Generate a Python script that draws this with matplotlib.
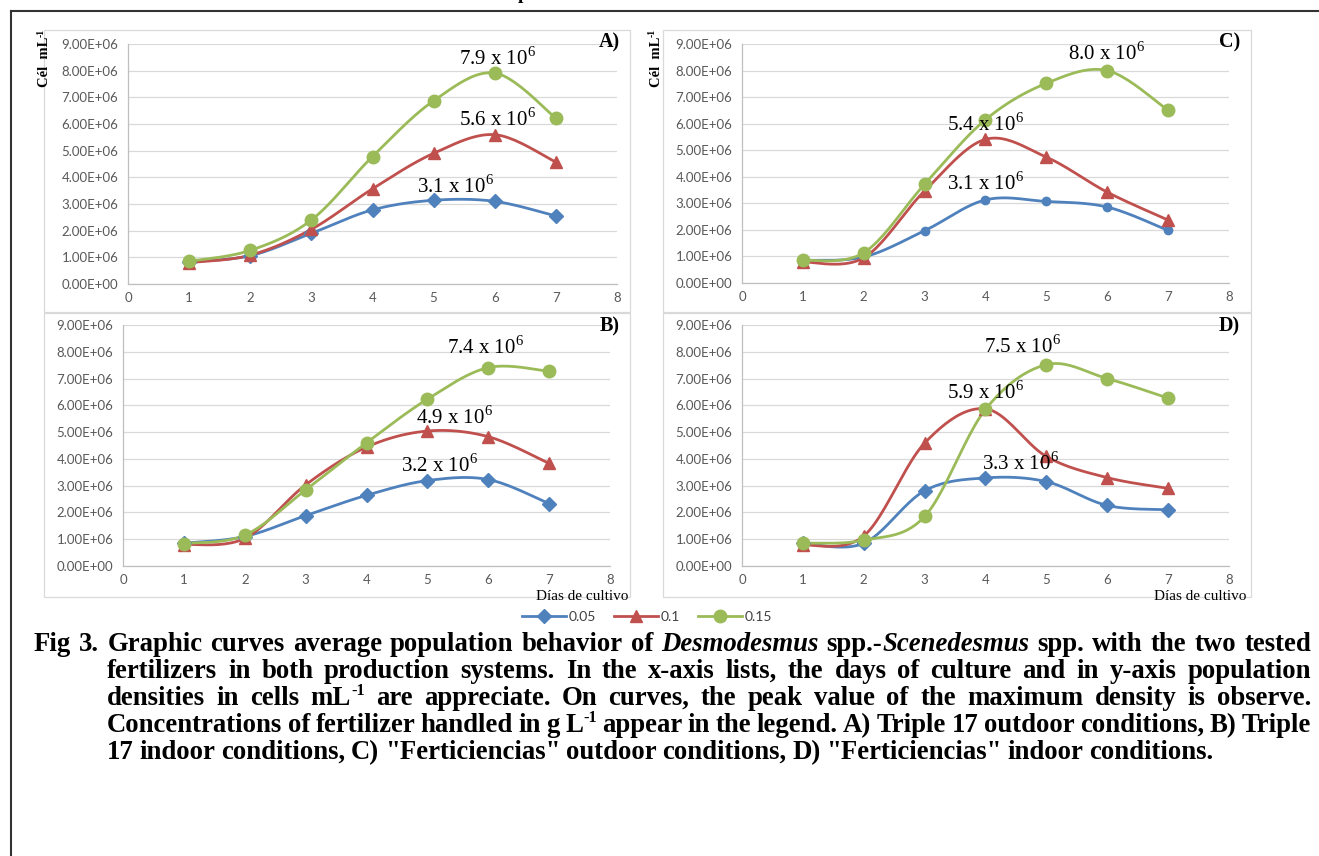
import numpy as np
import matplotlib as mpl
mpl.use('Agg')
from matplotlib import pyplot as plt
from matplotlib.lines import Line2D
from matplotlib.patches import Rectangle

plt.rcParams['mathtext.fontset'] = 'custom'
plt.rcParams['mathtext.rm'] = 'Liberation Serif'
plt.rcParams['mathtext.bf'] = 'Liberation Serif:bold'

# datos (celulas por mL, en millones)
dias = [1, 2, 3, 4, 5, 6, 7]
concentraciones = ['0.05', '0.1', '0.15']

a_005 = [0.84, 1.06, 1.90, 2.78, 3.14, 3.10, 2.55]
a_01 = [0.80, 1.08, 2.05, 3.57, 4.90, 5.60, 4.57]
a_015 = [0.85, 1.26, 2.40, 4.78, 6.87, 7.91, 6.22]

b_005 = [0.85, 1.10, 1.88, 2.64, 3.19, 3.23, 2.33]
b_01 = [0.80, 1.03, 3.03, 4.44, 5.04, 4.83, 3.83]
b_015 = [0.84, 1.15, 2.84, 4.60, 6.23, 7.41, 7.27]

c_005 = [0.85, 0.98, 1.97, 3.13, 3.07, 2.86, 1.98]
c_01 = [0.79, 0.95, 3.47, 5.41, 4.74, 3.42, 2.37]
c_015 = [0.85, 1.14, 3.72, 6.15, 7.52, 8.00, 6.50]

d_005 = [0.85, 0.85, 2.81, 3.29, 3.15, 2.26, 2.10]
d_01 = [0.78, 1.12, 4.59, 5.87, 4.09, 3.30, 2.90]
d_015 = [0.85, 0.96, 1.85, 5.85, 7.52, 7.00, 6.27]

# etiquetas de los picos (0.05, 0.1, 0.15)
picos_a = ['3.1', '5.6', '7.9']
picos_b = ['3.2', '4.9', '7.4']
picos_c = ['3.1', '5.4', '8.0']
picos_d = ['3.3', '5.9', '7.5']

W, H = 1319, 856
colores = ['#4F81BD', '#C0504D', '#9BBB59']
marcadores = [('D', 7), ('^', 9), ('o', 9)]


def suavizar(x, y, n=24):
    # curva suavizada tipo Excel (bezier con puntos vecinos)
    P = np.column_stack([x, y]).astype(float)
    P = np.vstack([P[:1], P, P[-1:]])
    t = np.linspace(0, 1, n)[:, None]
    xs, ys = [], []
    for i in range(len(x) - 1):
        p0 = P[i + 1]
        p3 = P[i + 2]
        p1 = p0 + (P[i + 2] - P[i]) / 6
        p2 = p3 - (P[i + 3] - P[i + 1]) / 6
        c = (1 - t) ** 3 * p0 + 3 * (1 - t) ** 2 * t * p1 + 3 * (1 - t) * t ** 2 * p2 + t ** 3 * p3
        xs.extend(c[:, 0])
        ys.extend(c[:, 1])
    return np.array(xs), np.array(ys)


fig = plt.figure(figsize=(W / 100, H / 100), dpi=100)
renderer = fig.canvas.get_renderer()


def caja(l, t, r, b, color='#D9D9D9', lw=0.9):
    fig.add_artist(Rectangle((l / W, 1 - b / H), (r - l) / W, (b - t) / H,
                             transform=fig.transFigure, fill=False, ec=color, lw=lw))


def etiqueta_y(x):
    # "Cél mL-1" vertical, con el -1 como superindice
    kw = dict(rotation=90, ha='center', va='top', family='Liberation Serif', weight='bold')
    fig.text((x - 4) / W, 1 - 29 / H, '-1', fontsize=7, **kw)
    fig.text(x / W, 1 - 37 / H, 'Cél  mL', fontsize=10.5, **kw)


def panel(rect, series, picos, pos_picos, letra, pos_letra, ylabel=None, xlabel=None, marcador_azul=None):
    l, t, r, b = rect
    ax = fig.add_axes([l / W, 1 - b / H, (r - l) / W, (b - t) / H])
    ax.set_xlim(0, 8)
    ax.set_ylim(0, 9e6)
    ax.set_xticks(range(9))
    ax.set_yticks(np.arange(0, 9.5e6, 1e6))
    ax.yaxis.set_major_formatter(lambda v, p: '{:.2E}'.format(v))
    ax.yaxis.grid(True, color='#D9D9D9', lw=0.9)
    ax.set_axisbelow(True)
    for s in ['top', 'right']:
        ax.spines[s].set_visible(False)
    for s in ['left', 'bottom']:
        ax.spines[s].set_color('#BFBFBF')
        ax.spines[s].set_linewidth(0.9)
    ax.tick_params(length=0, labelsize=9.5, labelcolor='#595959')
    ax.tick_params(axis='y', pad=7)
    ax.tick_params(axis='x', pad=6)
    for lab in ax.get_xticklabels() + ax.get_yticklabels():
        lab.set_family('Lato')
    for k, (vals, col) in enumerate(zip(series, colores)):
        y = np.array(vals) * 1e6
        xs, ys = suavizar(dias, y)
        ax.plot(xs, ys, color=col, lw=2, zorder=3)
        m, ms = marcadores[k]
        if k == 0 and marcador_azul:
            m, ms = marcador_azul
        ax.plot(dias, y, ls='none', marker=m, ms=ms, color=col, mec=col, zorder=4)
    for txt, (px, py) in zip(picos, pos_picos):
        ax.text(px, py * 1e6, txt + r' x 10$^{6}$', ha='center', va='center',
                family='Liberation Serif', fontsize=15, zorder=5)
    fig.text(pos_letra[0] / W, 1 - pos_letra[1] / H, letra, ha='right', va='center',
             family='Liberation Serif', weight='bold', fontsize=14.5)
    if ylabel:
        etiqueta_y(ylabel)
    if xlabel:
        fig.text(xlabel / W, 1 - 596 / H, 'Días de cultivo', ha='center', va='center',
                 family='Liberation Serif', fontsize=11)
    return ax


caja(44, 30, 630, 312)
caja(44, 313, 630, 597)
caja(663, 30, 1251, 312)
caja(663, 313, 1251, 597)

panel((128, 44, 617, 284), [a_005, a_01, a_015], picos_a,
      [(5.35, 3.67), (6.04, 6.15), (6.04, 8.44)], 'A)', (620, 42), ylabel=45)
panel((123, 325, 610, 566), [b_005, b_01, b_015], picos_b,
      [(5.2, 3.77), (5.45, 5.56), (5.96, 8.17)], 'B)', (620, 326), xlabel=582)
panel((742, 44, 1229, 283), [c_005, c_01, c_015], picos_c,
      [(4.0, 3.73), (4.0, 5.95), (5.99, 8.66)], 'C)', (1240, 42), ylabel=656, marcador_azul=('o', 6))
panel((742, 325, 1229, 566), [d_005, d_01, d_015], picos_d,
      [(4.57, 3.84), (4.0, 6.47), (4.6, 8.2)], 'D)', (1240, 326), xlabel=1200)

# leyenda
handles = [Line2D([], [], color=c, lw=2, marker=m, ms=ms, mec=c)
           for c, (m, ms) in zip(colores, marcadores)]
fig.legend(handles, concentraciones, loc='center', bbox_to_anchor=(647 / W, 1 - 617 / H),
           ncol=3, frameon=False, handlelength=3.2, handletextpad=0.15, columnspacing=1.3,
           prop={'family': 'Lato', 'size': 10}, labelcolor='#404040')

# bordes de la pagina
fig.add_artist(Line2D([11 / W, 1], [1 - 11 / H, 1 - 11 / H], transform=fig.transFigure, color='#333333', lw=1.5))
fig.add_artist(Line2D([11 / W, 11 / W], [1 - 11 / H, 0], transform=fig.transFigure, color='#333333', lw=1.5))
fig.text(523 / W, 1 + 1 / H, 'p', ha='center', va='baseline', family='Liberation Serif',
         weight='bold', fontsize=14)

# pie de figura, justificado
# cada palabra es una lista de trozos: (texto, estilo) con b=negrita, i=cursiva, s=superindice
B, I, S = 'b', 'i', 's'
lineas = [
    [[('Fig', B)], [('3.', B)], [('Graphic', B)], [('curves', B)], [('average', B)], [('population', B)],
     [('behavior', B)], [('of', B)], [('Desmodesmus', I)], [('spp.-', B), ('Scenedesmus', I)], [('spp.', B)],
     [('with', B)], [('the', B)], [('two', B)], [('tested', B)]],
    [[(w, B)] for w in 'fertilizers in both production systems. In the x-axis lists, the days of culture and in y-axis population'.split()],
    [[('densities', B)], [('in', B)], [('cells', B)], [('mL', B), ('-1', S)]]
    + [[(w, B)] for w in 'are appreciate. On curves, the peak value of the maximum density is observe.'.split()],
    [[(w, B)] for w in 'Concentrations of fertilizer handled in g'.split()] + [[('L', B), ('-1', S)]]
    + [[(w, B)] for w in 'appear in the legend. A) Triple 17 outdoor conditions, B) Triple'.split()],
    [[(w, B)] for w in '17 indoor conditions, C) "Ferticiencias" outdoor conditions, D) "Ferticiencias" indoor conditions.'.split()],
]


def crea(texto, estilo, fs):
    kw = dict(family='Liberation Serif', weight='bold', va='baseline', ha='left')
    if estilo == I:
        kw['style'] = 'italic'
    size = fs * 0.6 if estilo == S else fs
    return fig.text(0, 0, texto, fontsize=size, **kw)


# tamano de letra: la ultima linea ocupa ~1106 px
prueba = crea(' '.join(w for p in lineas[-1] for w, _ in p), B, 10)
fs = 10 * 1106 / prueba.get_window_extent(renderer).width * 1.01
prueba.remove()

for i, palabras in enumerate(lineas):
    x0 = 34 if i == 0 else 107
    x1 = 1311 if i < len(lineas) - 1 else 1213
    y = 651 + 27 * i
    grupos = []
    for palabra in palabras:
        trozos = []
        for texto, estilo in palabra:
            t = crea(texto, estilo, fs)
            trozos.append((t, estilo, t.get_window_extent(renderer).width))
        grupos.append(trozos)
    anchos = [sum(w for _, _, w in g) for g in grupos]
    gap = (x1 - x0 - sum(anchos)) / (len(grupos) - 1)
    x = x0
    for g, wg in zip(grupos, anchos):
        xx = x
        for t, estilo, w in g:
            sube = fs * 0.36 * 100 / 72 if estilo == S else 0
            t.set_position((xx / W, 1 - (y - sube) / H))
            xx += w
        x += wg + gap

fig.savefig('out.png', dpi=100)
